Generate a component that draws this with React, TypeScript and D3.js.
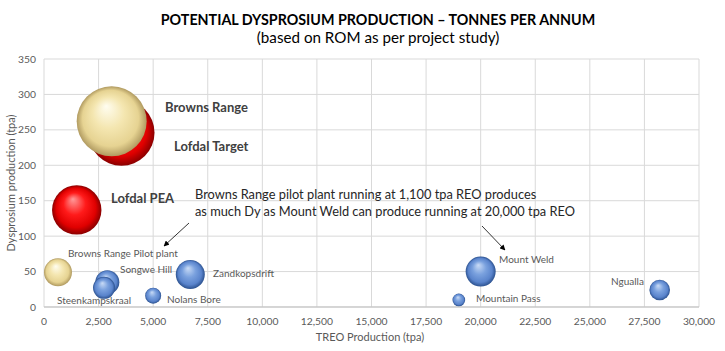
import React from "react";
import * as d3 from "d3";

const names = ["Lofdal Target", "Browns Range", "Lofdal PEA", "Browns Range Pilot plant", "Songwe Hill", "Steenkampskraal", "Nolans Bore", "Zandkopsdrift", "Mount Weld", "Mountain Pass", "Ngualla"];
const treo = [3550, 3100, 1500, 640, 2900, 2750, 5000, 6700, 20000, 19000, 28200];
const dy = [246, 262, 137, 49, 35, 27, 16, 46, 50, 10, 24];
const bubbleSize = [1090, 1225, 610, 196, 144, 121, 64, 210, 225, 40, 106];
const colorKey = ["red", "cream", "red", "cream", "blue", "blue", "blue", "blue", "blue", "blue", "blue"];
const xTicks = [0, 2500, 5000, 7500, 10000, 12500, 15000, 17500, 20000, 22500, 25000, 27500, 30000];
const yTicks = [0, 50, 100, 150, 200, 250, 300, 350];

const W = 725, H = 351;
const left = 44, right = 699, top = 59, bottom = 307;
const FONT = "Lato, 'Open Sans', sans-serif";

const gradients: Record<string, string[]> = {
  red: ["#ff9a9a", "#ff1a1a", "#e00000", "#8a0000"],
  cream: ["#fffdf0", "#f4e6b0", "#e6d392", "#b09a60"],
  blue: ["#c9dbf6", "#7aa1de", "#5a84cc", "#2c5290"],
};

export default function App() {
  const x = d3.scaleLinear().domain([0, 30000]).range([left, right]);
  const y = d3.scaleLinear().domain([0, 350]).range([bottom, top]);
  const r = d3.scaleSqrt().domain([0, 1225]).range([0, 35]);
  const fmt = d3.format(",");

  const labels = [
    { i: 1, dx: 165, dy: 107, bold: true, size: 13 },
    { i: 0, dx: 174, dy: 146, bold: true, size: 13 },
    { i: 2, dx: 111, dy: 198, bold: true, size: 13 },
    { i: 3, dx: 68, dy: 253, bold: false, size: 10 },
    { i: 4, dx: 120, dy: 269, bold: false, size: 10 },
    { i: 5, dx: 57, dy: 300, bold: false, size: 10 },
    { i: 6, dx: 167, dy: 299, bold: false, size: 10 },
    { i: 7, dx: 213, dy: 273, bold: false, size: 10 },
    { i: 8, dx: 499, dy: 259, bold: false, size: 10 },
    { i: 9, dx: 476, dy: 298, bold: false, size: 10 },
    { i: 10, dx: 611, dy: 281, bold: false, size: 10 },
  ];

  return (
    <svg width={W} height={H} style={{ position: "absolute", left: 0, top: 0, background: "#fff" }} fontFamily={FONT}>
      <defs>
        {Object.entries(gradients).map(([k, c]) => (
          <radialGradient key={k} id={`g-${k}`} cx="50%" cy="50%" r="50%" fx="42%" fy="28%">
            <stop offset="0%" stopColor={c[0]} />
            <stop offset="45%" stopColor={c[1]} />
            <stop offset="80%" stopColor={c[2]} />
            <stop offset="100%" stopColor={c[3]} />
          </radialGradient>
        ))}
        <marker id="arr" viewBox="0 0 10 10" refX="9" refY="5" markerWidth="7" markerHeight="7" orient="auto">
          <path d="M0,0 L10,5 L0,10 z" fill="#000" />
        </marker>
      </defs>
      <rect width={W} height={H} fill="#fff" />
      <text x={378} y={25} textAnchor="middle" fontWeight="bold" fontSize={14.3} fill="#000">POTENTIAL DYSPROSIUM PRODUCTION – TONNES PER ANNUM</text>
      <text x={378} y={43} textAnchor="middle" fontSize={15.2} fill="#000">(based on ROM as per project study)</text>

      {yTicks.map((t) => (
        <line key={"hy" + t} x1={left} x2={right} y1={y(t)} y2={y(t)} stroke="#d9d9d9" strokeWidth={1} />
      ))}
      {xTicks.map((t) => (
        <line key={"vx" + t} x1={x(t)} x2={x(t)} y1={top} y2={bottom} stroke="#d9d9d9" strokeWidth={1} />
      ))}
      <line x1={left} x2={right} y1={bottom} y2={bottom} stroke="#bfbfbf" />
      {yTicks.map((t) => (
        <text key={"ty" + t} x={36} y={y(t)} dy="0.35em" textAnchor="end" fontSize={10.3} fill="#595959">{t}</text>
      ))}
      {xTicks.map((t) => (
        <text key={"tx" + t} x={x(t)} y={321} dy="0.35em" textAnchor="middle" fontSize={10.3} fill="#595959">{fmt(t)}</text>
      ))}
      <text x={370} y={337} dy="0.35em" textAnchor="middle" fontSize={11} fill="#595959">TREO Production (tpa)</text>
      <text transform={`translate(11,183) rotate(-90)`} dy="0.35em" textAnchor="middle" fontSize={11} fill="#595959">Dysprosium production (tpa)</text>

      {names.map((n, i) => (
        <circle key={n} cx={x(treo[i])} cy={y(dy[i])} r={r(bubbleSize[i])} fill={`url(#g-${colorKey[i]})`} />
      ))}

      {labels.map((l) => (
        <text key={"l" + l.i} x={l.dx} y={l.dy} dy="0.35em" fontSize={l.size} fontWeight={l.bold ? "bold" : "normal"} fill={l.bold ? "#404040" : "#595959"}>{names[l.i]}</text>
      ))}

      <text x={195} y={195} dy="0.35em" fontSize={12.8} fill="#262626">Browns Range pilot plant running at 1,100 tpa REO produces</text>
      <text x={195} y={212} dy="0.35em" fontSize={12.8} fill="#262626">as much Dy as Mount Weld can produce running at 20,000 tpa REO</text>
      <line x1={189} y1={223} x2={164} y2={246} stroke="#000" strokeWidth={0.8} markerEnd="url(#arr)" />
      <line x1={482} y1={226} x2={505} y2={250} stroke="#000" strokeWidth={0.8} markerEnd="url(#arr)" />
    </svg>
  );
}
